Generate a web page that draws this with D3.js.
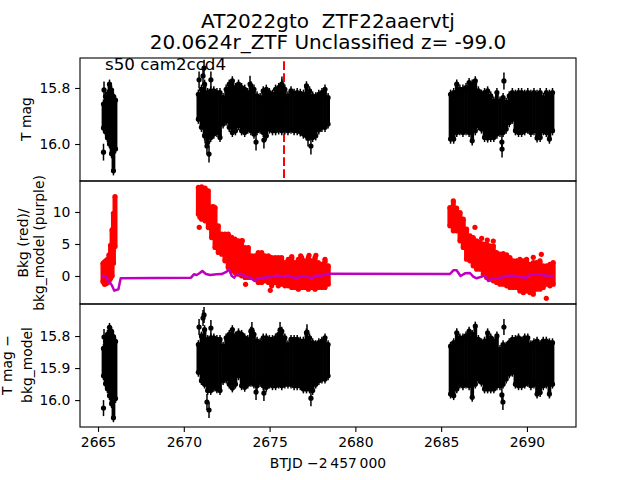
<!DOCTYPE html>
<html><head><meta charset="utf-8">
<script src="https://d3js.org/d3.v7.min.js"></script>
<style>html,body{margin:0;padding:0;background:#fff}svg{display:block}text{font-family:"DejaVu Sans",sans-serif;fill:#000;white-space:pre}</style>
</head><body>
<svg id="c" width="640" height="480"></svg>
<script>
// BTJD columns of the light curve (offset from 2457000 applied in tick labels)
const seg1T=[2665.32,2665.44,2665.55,2665.67,2665.79,2665.9,2666.02];
const seg2T=[2670.85,2671.03,2671.21,2671.39,2671.57,2671.75,2671.93,2672.11,2672.29,2672.47,2672.65,2672.83,2673.01,2673.19,2673.37,2673.55,2673.73,2673.91,2674.09,2674.27,2674.45,2674.63,2674.81,2674.99,2675.17,2675.35,2675.53,2675.71,2675.89,2676.07,2676.25,2676.43,2676.61,2676.79,2676.97,2677.15,2677.33,2677.51,2677.69,2677.87,2678.05,2678.23,2678.41];
const seg3T=[2685.55,2685.73,2685.91,2686.09,2686.27,2686.45,2686.63,2686.81,2686.99,2687.17,2687.35,2687.53,2687.71,2687.89,2688.07,2688.25,2688.43,2688.61,2688.79,2688.97,2689.15,2689.33,2689.51,2689.69,2689.87,2690.05,2690.23,2690.41,2690.59,2690.77,2690.95,2691.13,2691.31,2691.49];
// T mag: bright and faint edge of each column
const magHi=[15.871,15.843,15.836,15.8,15.821,15.843,15.857,
15.836,15.818,15.8,15.83,15.824,15.824,15.83,15.83,15.848,15.818,15.8,15.788,15.812,15.8,15.812,15.818,15.83,15.806,15.818,15.842,15.848,15.824,15.818,15.83,15.836,15.818,15.812,15.8,15.818,15.842,15.824,15.833,15.83,15.833,15.836,15.806,15.824,15.842,15.845,15.836,15.83,15.818,15.848,
15.836,15.83,15.8,15.818,15.818,15.812,15.794,15.8,15.788,15.824,15.836,15.83,15.824,15.842,15.86,15.83,15.86,15.848,15.865,15.842,15.83,15.836,15.83,15.83,15.836,15.83,15.836,15.83,15.836,15.83,15.848,15.83,15.836,15.83];
const magLo=[15.929,15.943,15.964,15.986,16.021,16.082,16.004,
15.898,15.927,15.957,15.981,15.963,15.951,15.945,15.963,15.915,15.904,15.927,15.945,15.939,15.921,15.939,15.945,15.933,15.939,15.951,15.939,15.933,15.945,15.957,15.933,15.939,15.939,15.936,15.939,15.936,15.939,15.933,15.939,15.939,15.943,15.951,15.957,15.957,15.963,15.957,15.936,15.927,15.927,15.915,
15.969,15.969,15.945,15.939,15.945,15.939,15.945,15.975,15.939,15.921,15.933,15.963,15.965,15.963,15.963,15.951,15.945,15.945,15.933,15.91,15.898,15.939,15.945,15.945,15.939,15.933,15.945,15.939,15.965,15.963,15.939,15.945,15.969,15.939];
const magOutT=[2665.32,2665.35,2670.89,2671.12,2671.18,2671.58,2671.35,2671.47,2671.24,2674.21,2674.67,2677.41,2677.24,2675.72,2673.86,2688.66,2688.54,2688.55];
const magOutV=[16.029,15.807,15.771,15.757,15.729,15.771,16.007,16.036,15.968,15.993,15.986,16.007,15.979,15.789,15.786,15.775,15.993,16.018];
// T mag - bkg_model
const corHi=[15.85,15.828,15.806,15.784,15.797,15.813,15.828,
15.838,15.811,15.791,15.822,15.817,15.817,15.822,15.822,15.843,15.817,15.806,15.791,15.811,15.801,15.806,15.817,15.822,15.796,15.806,15.827,15.832,15.817,15.817,15.822,15.822,15.817,15.806,15.796,15.817,15.838,15.822,15.822,15.822,15.827,15.827,15.801,15.817,15.832,15.838,15.832,15.827,15.817,15.838,
15.843,15.832,15.801,15.817,15.817,15.811,15.796,15.806,15.78,15.822,15.832,15.827,15.801,15.817,15.827,15.811,15.853,15.838,15.843,15.832,15.822,15.822,15.817,15.827,15.817,15.817,15.838,15.832,15.827,15.838,15.827,15.827,15.832,15.832];
const corLo=[15.913,15.938,15.953,15.975,16.0,16.044,15.984,
15.902,15.928,15.939,15.959,15.959,15.949,15.954,15.959,15.928,15.923,15.939,15.951,15.939,15.913,15.944,15.949,15.939,15.933,15.939,15.944,15.933,15.944,15.949,15.939,15.944,15.944,15.939,15.944,15.939,15.939,15.939,15.944,15.944,15.944,15.954,15.954,15.954,15.959,15.939,15.928,15.923,15.923,15.913,
15.97,15.975,15.954,15.939,15.944,15.939,15.944,15.98,15.939,15.923,15.933,15.954,15.954,15.954,15.954,15.944,15.944,15.939,15.923,15.907,15.902,15.939,15.944,15.944,15.939,15.933,15.944,15.939,15.97,15.965,15.944,15.939,15.97,15.939];
const corOutT=[2665.35,2665.32,2671.12,2670.89,2671.58,2671.35,2671.47,2674.21,2674.67,2677.41,2673.97,2675.61,2677.18,2671.18,2688.66,2688.54,2688.6];
const corOutV=[15.803,16.025,15.744,15.772,15.775,16.006,16.031,15.975,15.978,15.994,15.781,15.781,15.788,15.734,15.772,15.984,16.006];
// Background flux (red)
const bkgT=[2665.29,2665.38,2665.47,2665.55,2665.64,2665.73,2665.82,2665.9,2665.99,
2670.85,2671.04,2671.24,2671.43,2671.62,2671.82,2672.01,2672.21,2672.4,2672.59,2672.79,2672.98,2673.18,2673.37,2673.57,2673.76,2673.96,2674.15,2674.34,2674.54,2674.73,2674.93,2675.12,2675.32,2675.51,2675.7,2675.9,2676.09,2676.29,2676.48,2676.68,2676.87,2677.06,2677.26,2677.45,2677.65,2677.84,2678.04,2678.23,2678.42,
2685.51,2685.71,2685.9,2686.1,2686.29,2686.48,2686.68,2686.87,2687.07,2687.26,2687.46,2687.65,2687.84,2688.04,2688.23,2688.43,2688.62,2688.82,2689.01,2689.2,2689.4,2689.59,2689.79,2689.98,2690.17,2690.37,2690.56,2690.76,2690.95,2691.15,2691.34,2691.53];
const bkgHi=[1.98,2.2,2.4,2.6,3.3,4.8,7.2,9.8,12.4,
13.83,13.93,13.72,13.3,10.8,10.7,7.84,6.54,6.54,6.54,6.03,5.76,5.5,5.5,4.45,4.45,3.14,3.14,3.67,3.67,3.14,3.14,2.87,2.87,2.87,2.87,2.09,2.6,2.87,2.09,2.6,2.87,2.35,2.87,2.35,2.87,2.09,1.83,2.35,1.57,
10.7,11.74,10.6,9.92,8.88,7.32,6.28,6.01,5.5,5.24,4.97,4.97,4.71,4.71,3.67,3.41,3.51,3.31,2.87,2.35,2.35,2.6,2.35,2.6,1.83,2.09,2.09,2.35,1.57,1.57,1.83,2.09];
const bkgLo=[-0.89,-1.3,-1.2,-1.0,-0.9,-0.4,0.0,2.0,4.6,
9.66,8.88,8.62,7.57,6.0,4.45,3.67,3.41,2.37,1.33,0.81,0.55,0.29,0.03,-0.23,-0.23,-0.23,-0.49,-1.02,-1.02,-0.76,-1.02,-1.54,-1.02,-1.54,-1.28,-1.54,-1.54,-1.8,-1.8,-2.07,-1.8,-1.8,-2.07,-1.8,-2.07,-1.8,-1.8,-1.8,-1.28,
7.84,7.06,7.06,5.5,4.45,2.63,2.37,1.59,1.07,1.07,0.29,-0.23,-0.49,-0.76,-1.02,-1.28,-1.28,-1.54,-1.8,-1.8,-1.8,-2.33,-2.59,-2.33,-2.59,-2.85,-2.07,-2.07,-1.8,-1.28,-1.54,-1.28];
const bkgOutT=[2670.94,2670.9,2673.41,2673.6,2675.04,2676.29,2676.81,2677.3,2677.7,2678.23,2671.72,2686.97,2690.37,2690.84,2691.13,2689.79,2687.36,2688.04,2687.69];
const bkgOutV=[9.17,7.6,5.52,-1.3,-2.24,3.02,3.13,3.23,3.23,2.6,10.83,7.6,2.92,3.39,-3.49,-2.55,5.89,5.47,5.62];
// Background model (purple)
const modelT=[2665.21,2665.47,2665.66,2665.8,2665.95,2666.19,2666.32,2670.42,2670.59,2670.75,2670.91,2671.08,2671.29,2671.53,2671.92,2672.21,2672.5,2672.63,2672.79,2672.93,2673.08,2673.31,2673.57,2673.86,2674.15,2674.34,2674.63,2675.02,2675.41,2675.8,2676.09,2676.58,2676.87,2677.16,2677.45,2677.65,2678.04,2678.42,2685.51,2685.71,2685.9,2686.13,2686.39,2686.68,2686.87,2687.07,2687.55,2687.75,2688.04,2688.43,2688.82,2689.2,2689.59,2689.98,2690.23,2690.66,2691.15,2691.57];
const modelV=[0.05,-0.16,-0.99,-1.41,-2.29,-2.08,-0.36,-0.26,0.26,0.16,0.42,0.78,0.31,0.16,0.26,0.31,0.68,1.04,0.05,-0.26,0.26,0.31,0,-0.26,-0.78,-0.36,-0.26,-0.16,0.05,-0.05,0.05,-0.36,0,-0.05,-0.36,0.05,0.05,0.37,0.31,0.89,0.89,0,0.42,0.47,-0.1,-0.36,0.05,-0.78,-0.36,-0.36,0,0.05,-0.16,-0.26,0.26,0.26,0.05,0];
const eventT=[2675.84];
const xTicks=[2665,2670,2675,2680,2685,2690];
const topTicks=[15.8,16.0], midTicks=[0,5,10], botTicks=[15.8,15.9,16.0];
const titleLines=["AT2022gto  ZTF22aaervtj","20.0624r_ZTF Unclassified z= -99.0"];
const sectorLabel="s50 cam2ccd4";

const L=80,R=576,P=[[58,181],[181,304],[304,427]];
const svg=d3.select("#c");
svg.append("rect").attr("width",640).attr("height",480).attr("fill","#fff");
const defs=svg.append("defs");
const x=d3.scaleLinear().domain([2663.95,2692.86]).range([L,R]);
const yTop=d3.scaleLinear().domain([15.693,16.132]).range(P[0]);
const yMid=d3.scaleLinear().domain([14.84,-4.375]).range(P[1]);
const yBot=d3.scaleLinear().domain([15.7,16.084]).range(P[2]);
const ys=[yTop,yMid,yBot];
const panels=ys.map((y,i)=>{
  defs.append("clipPath").attr("id","p"+i).append("rect").attr("x",L).attr("y",P[i][0]).attr("width",R-L).attr("height",P[i][1]-P[i][0]);
  return svg.append("g").attr("clip-path",`url(#p${i})`);
});
function black(g,y,t,hi,lo,oT,oV,err){
  const pad=err*0.45;
  const cols=t.map((d,i)=>({t:d,hi:hi[i],lo:lo[i]}));
  g.selectAll(null).data(cols).join("line").attr("x1",d=>x(d.t)).attr("x2",d=>x(d.t)).attr("y1",d=>y(d.hi-pad)).attr("y2",d=>y(d.lo+pad)).attr("stroke","#000").attr("stroke-width",3.8);
  const ends=cols.flatMap(d=>[{t:d.t,v:d.hi,c:d.hi-pad},{t:d.t,v:d.lo,c:d.lo+pad}]);
  const pts=ends.concat(oT.map((d,i)=>({t:d,v:oV[i],c:oV[i]})));
  g.selectAll(null).data(pts).join("line").attr("x1",d=>x(d.t)).attr("x2",d=>x(d.t)).attr("y1",d=>y(d.v-err)).attr("y2",d=>y(d.v+err)).attr("stroke","#000").attr("stroke-width",1.5);
  g.selectAll(null).data(pts).join("circle").attr("cx",d=>x(d.t)).attr("cy",d=>y(d.c)).attr("r",2.6).attr("fill","#000");
}
// event marker sits under the light curve
panels[0].selectAll(null).data(eventT).join("line").attr("x1",d=>x(d)).attr("x2",d=>x(d)).attr("y1",P[0][0]).attr("y2",P[0][1]).attr("stroke","#f00").attr("stroke-width",2).attr("stroke-dasharray","8.7,3.3").attr("stroke-dashoffset",8.7);
const allT=seg1T.concat(seg2T,seg3T);
black(panels[0],yTop,allT,magHi,magLo,magOutT,magOutV,0.03);
black(panels[2],yBot,allT,corHi,corLo,corOutT,corOutV,0.025);
// background
const bk=bkgT.map((d,i)=>({t:d,hi:bkgHi[i],lo:bkgLo[i]}));
panels[1].selectAll(null).data(bk).join("line").attr("x1",d=>x(d.t)).attr("x2",d=>x(d.t)).attr("y1",d=>yMid(d.hi)).attr("y2",d=>yMid(d.lo)).attr("stroke","#f00").attr("stroke-width",5);
const bpts=bk.flatMap(d=>[{t:d.t,v:d.hi},{t:d.t,v:d.lo}]).concat(bkgOutT.map((d,i)=>({t:d,v:bkgOutV[i]})));
panels[1].selectAll(null).data(bpts).join("circle").attr("cx",d=>x(d.t)).attr("cy",d=>yMid(d.v)).attr("r",2.6).attr("fill","#f00");
panels[1].append("path").datum(modelT.map((d,i)=>[d,modelV[i]])).attr("fill","none").attr("stroke","#bf00bf").attr("stroke-width",2.5).attr("stroke-linejoin","round")
  .attr("d",d3.line().x(d=>x(d[0])).y(d=>yMid(d[1])));
// axes and frames
const tickSets=[topTicks,midTicks,botTicks], fmts=[d3.format(".1f"),d3.format("d"),d3.format(".1f")];
ys.forEach((y,i)=>{
  const a=svg.append("g").attr("transform",`translate(${L},0)`).call(d3.axisLeft(y).tickValues(tickSets[i]).tickFormat(fmts[i]).tickSize(4.9).tickPadding(4.8));
  a.select(".domain").remove();
  a.selectAll("line").attr("stroke","#000").attr("stroke-width",1.1);
  a.selectAll("text").attr("font-size",13.9).attr("font-family","DejaVu Sans").attr("fill","#000");
  svg.append("rect").attr("x",L).attr("y",P[i][0]).attr("width",R-L).attr("height",P[i][1]-P[i][0]).attr("fill","none").attr("stroke","#000").attr("stroke-width",1.1);
});
const ax=svg.append("g").attr("transform",`translate(0,${P[2][1]})`).call(d3.axisBottom(x).tickValues(xTicks).tickFormat(d3.format("d")).tickSize(4.9).tickPadding(4.8));
ax.select(".domain").remove();
ax.selectAll("line").attr("stroke","#000").attr("stroke-width",1.1);
ax.selectAll("text").attr("font-size",13.9).attr("font-family","DejaVu Sans").attr("fill","#000");
// text
titleLines.forEach((s,i)=>svg.append("text").attr("x",328).attr("y",[28,49][i]).attr("text-anchor","middle").attr("font-size",20).text(s));
svg.append("text").attr("x",105).attr("y",70).attr("font-size",16.7).text(sectorLabel);
svg.append("text").attr("x",328).attr("y",468).attr("text-anchor","middle").attr("font-size",13.9).text("BTJD \u22122\u2009457\u2009000");
function yl(px,py,s){svg.append("text").attr("transform",`translate(${px},${py}) rotate(-90)`).attr("text-anchor","middle").attr("font-size",13.9).text(s);}
yl(31,119,"T mag");
yl(28,243,"Bkg (red)/");yl(44,243,"bkg_model (purple)");
yl(12,365,"T mag \u2212");yl(32,365,"bkg_model");
</script>
</body></html>
